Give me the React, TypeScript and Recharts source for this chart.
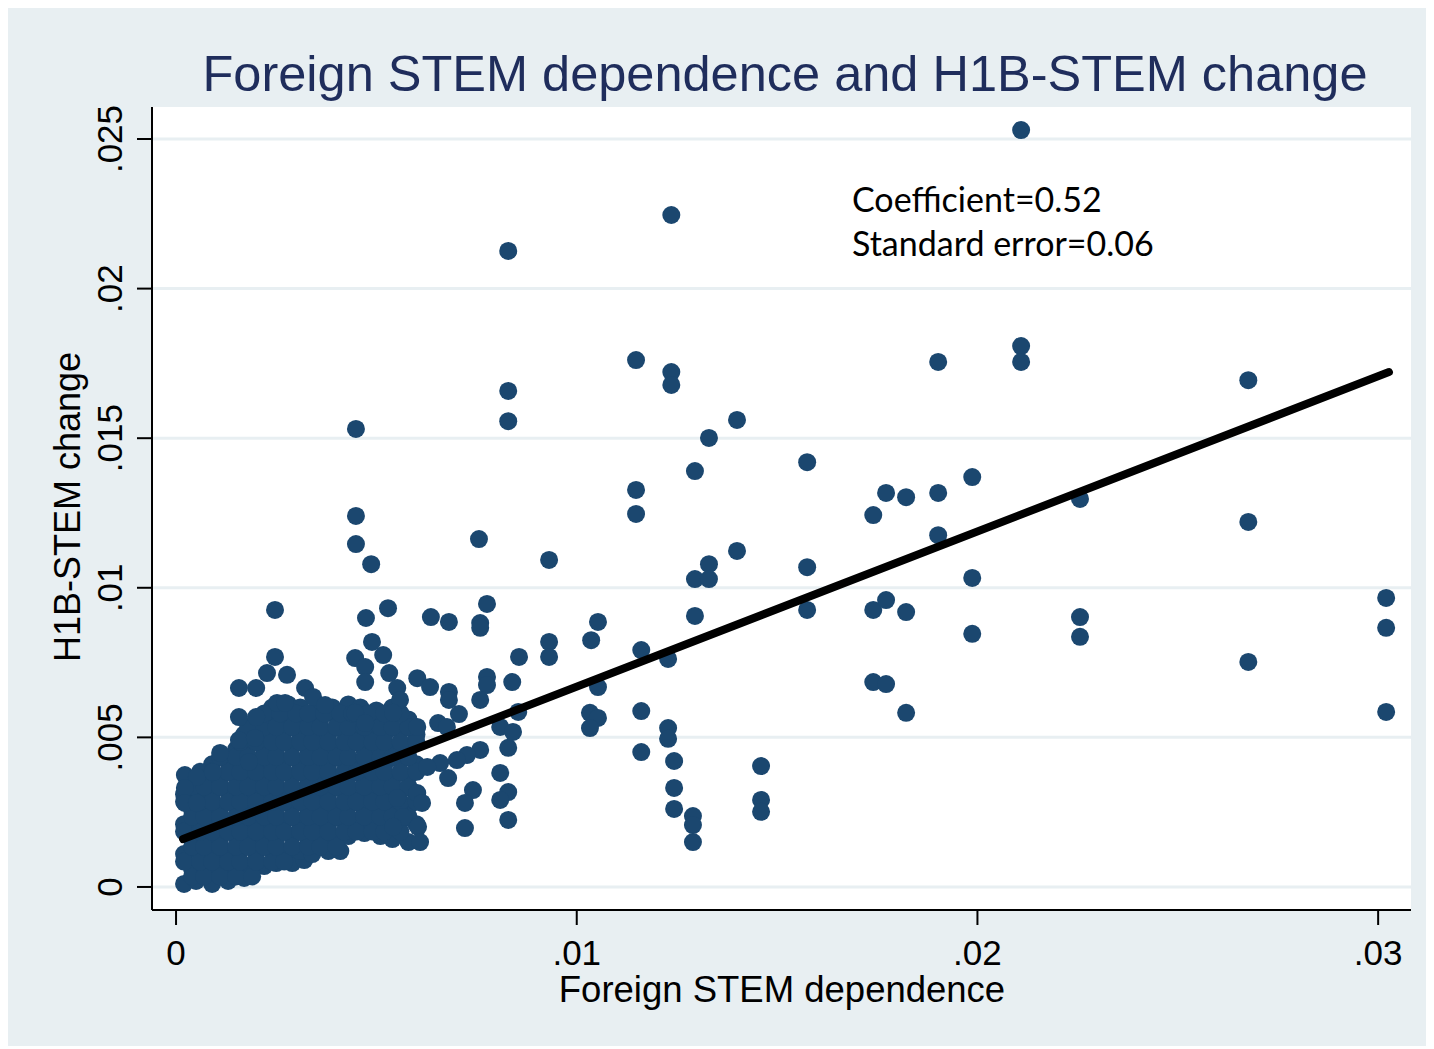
import React from "react";
import { ScatterChart, Scatter, XAxis, YAxis, CartesianGrid } from "recharts";

const xTicks = [0, 0.01, 0.02, 0.03];
const xTickLabels = ["0", ".01", ".02", ".03"];
const yTicks = [0, 0.005, 0.01, 0.015, 0.02, 0.025];
const yTickLabels = ["0", ".005", ".01", ".015", ".02", ".025"];

// the solid mass of small areas near the origin
const denseCluster: [number, number][] = [
  [0.0002, 0.0001], [0.0005, 0.0002], [0.0009, 0.0001], [0.0013, 0.0002], [0.0017, 0.0003],
  [0.0004, 0.0006], [0.0007, 0.0005], [0.0011, 0.0006], [0.0015, 0.0006], [0.0018, 0.0007],
  [0.0022, 0.0007], [0.0025, 0.0008], [0.0029, 0.0008], [0.0032, 0.0009],
  [0.0002, 0.0011], [0.0006, 0.0011], [0.0009, 0.001], [0.0013, 0.0011], [0.0016, 0.0012],
  [0.002, 0.0011], [0.0024, 0.0012], [0.0027, 0.0011], [0.0031, 0.0012], [0.0034, 0.0011],
  [0.0038, 0.0012], [0.0041, 0.0012],
  [0.0004, 0.0016], [0.0007, 0.0015], [0.0011, 0.0016], [0.0015, 0.0017], [0.0018, 0.0016],
  [0.0022, 0.0015], [0.0025, 0.0016], [0.0029, 0.0017], [0.0033, 0.0016], [0.0036, 0.0015],
  [0.004, 0.0016], [0.0043, 0.0017], [0.0047, 0.0018], [0.0051, 0.0017], [0.0054, 0.0016],
  [0.0058, 0.0015],
  [0.0002, 0.0021], [0.0006, 0.002], [0.0009, 0.0021], [0.0013, 0.0022], [0.0016, 0.0021],
  [0.002, 0.002], [0.0024, 0.0021], [0.0027, 0.0022], [0.0031, 0.0021], [0.0034, 0.002],
  [0.0038, 0.0021], [0.0042, 0.0022], [0.0045, 0.0021], [0.0049, 0.002], [0.0052, 0.0021],
  [0.0056, 0.0022], [0.006, 0.0021],
  [0.0004, 0.0026], [0.0007, 0.0025], [0.0011, 0.0026], [0.0015, 0.0027], [0.0018, 0.0026],
  [0.0022, 0.0025], [0.0025, 0.0026], [0.0029, 0.0027], [0.0033, 0.0026], [0.0036, 0.0025],
  [0.004, 0.0026], [0.0043, 0.0027], [0.0047, 0.0026], [0.0051, 0.0025], [0.0054, 0.0026],
  [0.0058, 0.0027],
  [0.0002, 0.0031], [0.0006, 0.003], [0.0009, 0.0031], [0.0013, 0.0032], [0.0016, 0.0031],
  [0.002, 0.003], [0.0024, 0.0031], [0.0027, 0.0032], [0.0031, 0.0031], [0.0034, 0.003],
  [0.0038, 0.0031], [0.0042, 0.0032], [0.0045, 0.0031], [0.0049, 0.003], [0.0052, 0.0031],
  [0.0056, 0.0032], [0.006, 0.0031],
  [0.0004, 0.0036], [0.0007, 0.0035], [0.0011, 0.0036], [0.0015, 0.0037], [0.0018, 0.0036],
  [0.0022, 0.0035], [0.0025, 0.0036], [0.0029, 0.0037], [0.0033, 0.0036], [0.0036, 0.0035],
  [0.004, 0.0036], [0.0043, 0.0037], [0.0047, 0.0036], [0.0051, 0.0035], [0.0054, 0.0036],
  [0.0058, 0.0037],
  [0.0009, 0.0041], [0.0013, 0.0042], [0.0016, 0.0041], [0.002, 0.004], [0.0024, 0.0041],
  [0.0027, 0.0042], [0.0031, 0.0041], [0.0034, 0.004], [0.0038, 0.0041], [0.0042, 0.0042],
  [0.0045, 0.0041], [0.0049, 0.004], [0.0052, 0.0041], [0.0056, 0.0042], [0.006, 0.0041],
  [0.0015, 0.0046], [0.0018, 0.0047], [0.0022, 0.0045], [0.0025, 0.0046], [0.0029, 0.0047],
  [0.0033, 0.0046], [0.0036, 0.0045], [0.004, 0.0046], [0.0043, 0.0047], [0.0047, 0.0046],
  [0.0051, 0.0045], [0.0054, 0.0046], [0.0058, 0.0047],
  [0.0017, 0.0051], [0.002, 0.005], [0.0024, 0.0051], [0.0027, 0.0052], [0.0031, 0.0051],
  [0.0034, 0.005], [0.0038, 0.0051], [0.0042, 0.0052], [0.0045, 0.0051], [0.0049, 0.005],
  [0.0052, 0.0051], [0.0056, 0.0052], [0.006, 0.0051],
  [0.002, 0.0056], [0.0023, 0.0055], [0.0026, 0.0057], [0.0029, 0.0056], [0.0033, 0.0055],
  [0.0036, 0.0056], [0.004, 0.0057], [0.0043, 0.0056], [0.0047, 0.0055], [0.0051, 0.0056],
  [0.0054, 0.0057], [0.0058, 0.0056],
  [0.0024, 0.006], [0.0028, 0.0061], [0.0031, 0.006], [0.0035, 0.0059], [0.0039, 0.006],
  [0.0043, 0.0061], [0.0046, 0.006], [0.005, 0.0059], [0.0054, 0.006],
];

// more cluster points lying between the rows above
const clusterInnerRows: { y: number; xs: number[] }[] = [
  { y: 0.00035, xs: [0.0004, 0.0007, 0.0011, 0.0015, 0.0019] },
  { y: 0.00085, xs: [0.0002, 0.0006, 0.0009, 0.0013, 0.0016, 0.002, 0.0024, 0.0027] },
  { y: 0.00135, xs: [0.0004, 0.0007, 0.0011, 0.0015, 0.0018, 0.0022, 0.0025, 0.0029, 0.0033, 0.0036, 0.004] },
  { y: 0.00185, xs: [0.0002, 0.0006, 0.0009, 0.0013, 0.0016, 0.002, 0.0024, 0.0027, 0.0031, 0.0034, 0.0038, 0.0042, 0.0045, 0.0049, 0.0052, 0.0056] },
  { y: 0.00235, xs: [0.0004, 0.0007, 0.0011, 0.0015, 0.0018, 0.0022, 0.0025, 0.0029, 0.0033, 0.0036, 0.004, 0.0043, 0.0047, 0.0051, 0.0054, 0.0058] },
  { y: 0.00285, xs: [0.0002, 0.0006, 0.0009, 0.0013, 0.0016, 0.002, 0.0024, 0.0027, 0.0031, 0.0034, 0.0038, 0.0042, 0.0045, 0.0049, 0.0052, 0.0056, 0.006] },
  { y: 0.00335, xs: [0.0004, 0.0007, 0.0011, 0.0015, 0.0018, 0.0022, 0.0025, 0.0029, 0.0033, 0.0036, 0.004, 0.0043, 0.0047, 0.0051, 0.0054, 0.0058] },
  { y: 0.00385, xs: [0.0006, 0.0009, 0.0013, 0.0016, 0.002, 0.0024, 0.0027, 0.0031, 0.0034, 0.0038, 0.0042, 0.0045, 0.0049, 0.0052, 0.0056, 0.006] },
  { y: 0.00435, xs: [0.0011, 0.0015, 0.0018, 0.0022, 0.0025, 0.0029, 0.0033, 0.0036, 0.004, 0.0043, 0.0047, 0.0051, 0.0054, 0.0058] },
  { y: 0.00485, xs: [0.0016, 0.002, 0.0024, 0.0027, 0.0031, 0.0034, 0.0038, 0.0042, 0.0045, 0.0049, 0.0052, 0.0056, 0.006] },
  { y: 0.00535, xs: [0.0018, 0.0022, 0.0025, 0.0029, 0.0033, 0.0036, 0.004, 0.0043, 0.0047, 0.0051, 0.0054, 0.0058] },
  { y: 0.0058, xs: [0.0022, 0.0026, 0.003, 0.0033, 0.0037, 0.0041, 0.0044, 0.0048, 0.0052, 0.0056] },
];

// points around and outside the cluster
const spreadPoints: [number, number][] = [
  [0.02109, 0.0253], [0.01236, 0.02246], [0.00829, 0.02126], [0.02109, 0.01808], [0.02109, 0.01755],
  [0.01902, 0.01755], [0.01148, 0.01761], [0.01236, 0.01721], [0.01236, 0.01678], [0.00829, 0.01658],
  [0.00829, 0.01557], [0.014, 0.01561], [0.0133, 0.01501], [0.00449, 0.01531], [0.01575, 0.0142],
  [0.01295, 0.0139], [0.02676, 0.01694], [0.01987, 0.0137], [0.01148, 0.01327], [0.01772, 0.01317],
  [0.01822, 0.01303], [0.01902, 0.01317], [0.02256, 0.01297], [0.0174, 0.01243], [0.01148, 0.01247],
  [0.00449, 0.0124], [0.02676, 0.0122], [0.01902, 0.01176], [0.00756, 0.01163], [0.014, 0.01123],
  [0.00449, 0.01146], [0.00931, 0.01093], [0.00487, 0.01079], [0.0133, 0.01079], [0.01575, 0.01069],
  [0.01295, 0.01029], [0.0133, 0.01029], [0.01987, 0.01033], [0.0302, 0.00966], [0.00247, 0.00926],
  [0.00529, 0.00932], [0.01575, 0.00926], [0.0174, 0.00926], [0.01772, 0.00959], [0.01822, 0.00919],
  [0.00776, 0.00946], [0.02256, 0.00902], [0.01295, 0.00906], [0.00474, 0.00899], [0.00636, 0.00902],
  [0.00681, 0.00886], [0.00759, 0.00882], [0.00759, 0.00866], [0.01053, 0.00886], [0.01036, 0.00825],
  [0.0302, 0.00866], [0.01987, 0.00846], [0.02256, 0.00836], [0.00931, 0.00819], [0.00489, 0.00819],
  [0.01161, 0.00792], [0.00931, 0.00769], [0.00856, 0.00769], [0.01228, 0.00762], [0.00447, 0.00765],
  [0.00517, 0.00775], [0.00247, 0.00769], [0.02676, 0.00752], [0.00776, 0.00702], [0.00776, 0.00675],
  [0.00839, 0.00685], [0.0174, 0.00685], [0.01772, 0.00678], [0.01053, 0.00668], [0.00157, 0.00665],
  [0.002, 0.00665], [0.0302, 0.00585], [0.01822, 0.00582], [0.01161, 0.00588], [0.00706, 0.00578],
  [0.01033, 0.00582], [0.01053, 0.00565], [0.00854, 0.00585], [0.01033, 0.00531], [0.01228, 0.00531],
  [0.01228, 0.00495], [0.01161, 0.00451], [0.01243, 0.00421], [0.0146, 0.00404], [0.01243, 0.00331],
  [0.01243, 0.00261], [0.0146, 0.00291], [0.0146, 0.00251], [0.0129, 0.00237], [0.0129, 0.00207],
  [0.0129, 0.0015], [0.00227, 0.00715], [0.00277, 0.00709], [0.00322, 0.00665], [0.00342, 0.00635],
  [0.00372, 0.00608], [0.00157, 0.00568], [0.002, 0.00568], [0.00252, 0.00615], [0.00272, 0.00615],
  [0.00157, 0.00491], [0.00197, 0.00498], [0.0011, 0.00448], [0.00182, 0.00418], [0.00022, 0.00374],
  [0.00052, 0.00368], [0.00092, 0.00384], [0.00022, 0.00331], [0.00022, 0.00281], [0.00052, 0.00281],
  [0.00472, 0.00735], [0.00472, 0.00685], [0.00532, 0.00715], [0.00602, 0.00698], [0.00634, 0.00668],
  [0.00681, 0.00652], [0.00681, 0.00625], [0.00759, 0.00625], [0.00447, 0.00582], [0.00472, 0.00548],
  [0.00552, 0.00665], [0.00559, 0.00625], [0.00542, 0.00582], [0.00602, 0.00535], [0.00654, 0.00548],
  [0.00676, 0.00535], [0.00809, 0.00535], [0.00841, 0.00518], [0.00829, 0.00465], [0.00759, 0.00458],
  [0.00726, 0.00441], [0.00701, 0.00424], [0.00659, 0.00414], [0.00627, 0.00401], [0.00809, 0.00381],
  [0.00741, 0.00324], [0.00721, 0.00281], [0.00829, 0.00317], [0.00809, 0.00291], [0.00721, 0.00197],
  [0.00829, 0.00224], [0.00602, 0.00314], [0.00614, 0.00281], [0.00552, 0.00297], [0.00604, 0.00201],
  [0.00609, 0.0015], [0.00567, 0.00234], [0.00542, 0.00201], [0.00679, 0.00364],
];

// fitted line, coefficient 0.52
const fitLine: [number, number][] = [
  [0.000175, 0.0016],
  [0.03027, 0.01721],
];

const toRows = (pts: [number, number][]) => pts.map(([x, y]) => ({ x, y }));

const MARKER = "#1b476f";
const FONT = "'Liberation Sans', Arial, sans-serif";

const XTick = (props: any) => {
  const { x, payload } = props;
  const i = xTicks.findIndex((t) => Math.abs(t - payload.value) < 1e-9);
  return (
    <text x={x} y={959} textAnchor="middle" fontSize={35} fontFamily={FONT} fill="#000">
      {xTickLabels[i]}
    </text>
  );
};

const YTick = (props: any) => {
  const { y, payload } = props;
  const i = yTicks.findIndex((t) => Math.abs(t - payload.value) < 1e-9);
  return (
    <text
      transform={`translate(114, ${y}) rotate(-90)`}
      textAnchor="middle"
      fontSize={35}
      fontFamily={FONT}
      fill="#000"
    >
      {yTickLabels[i]}
    </text>
  );
};

const Dot = (p: any) => <circle cx={p.cx} cy={p.cy} r={9} fill={MARKER} />;

export default function App() {
  const inner = clusterInnerRows.flatMap((r) => r.xs.map((x) => ({ x, y: r.y })));
  const data = [...toRows(denseCluster), ...inner, ...toRows(spreadPoints)];

  return (
    <div style={{ width: 1418, height: 1040, marginTop: -2, background: "#e8eff2" }}>
      <ScatterChart
        width={1418}
        height={1040}
        margin={{ top: 101, right: 15, left: 84, bottom: 76 }}
      >
        <CartesianGrid
          fill="#ffffff"
          vertical={false}
          horizontalValues={yTicks}
          stroke="#e8eff2"
          strokeWidth={3}
        />
        <XAxis
          type="number"
          dataKey="x"
          domain={[-0.0006, 0.03082]}
          ticks={xTicks}
          allowDataOverflow
          height={60}
          tickSize={15}
          axisLine={{ stroke: "#000", strokeWidth: 2 }}
          tickLine={{ stroke: "#000", strokeWidth: 2 }}
          tick={<XTick />}
        />
        <YAxis
          type="number"
          dataKey="y"
          domain={[-0.00077, 0.02607]}
          ticks={yTicks}
          allowDataOverflow
          width={60}
          tickSize={15}
          axisLine={{ stroke: "#000", strokeWidth: 2 }}
          tickLine={{ stroke: "#000", strokeWidth: 2 }}
          tick={<YTick />}
        />
        <Scatter data={data} shape={Dot} isAnimationActive={false} />
        <Scatter
          data={toRows(fitLine)}
          line={{ stroke: "#000", strokeWidth: 8, strokeLinecap: "round" }}
          lineType="joint"
          shape={() => <g />}
          isAnimationActive={false}
        />
        <text x={777} y={85} textAnchor="middle" fontSize={50.5} fontFamily={FONT} fill="#1f2d5c">
          Foreign STEM dependence and H1B-STEM change
        </text>
        <text x={774} y={996} textAnchor="middle" fontSize={36.5} fontFamily={FONT} fill="#000">
          Foreign STEM dependence
        </text>
        <text
          transform="translate(72, 501) rotate(-90)"
          textAnchor="middle"
          fontSize={36}
          fontFamily={FONT}
          fill="#000"
        >
          H1B-STEM change
        </text>
        <text x={844} y={206} fontSize={34} fontFamily="Lato, 'Open Sans', sans-serif" fill="#000">
          Coefficient=0.52
        </text>
        <text x={844} y={250} fontSize={34} fontFamily="Lato, 'Open Sans', sans-serif" fill="#000">
          Standard error=0.06
        </text>
      </ScatterChart>
    </div>
  );
}
